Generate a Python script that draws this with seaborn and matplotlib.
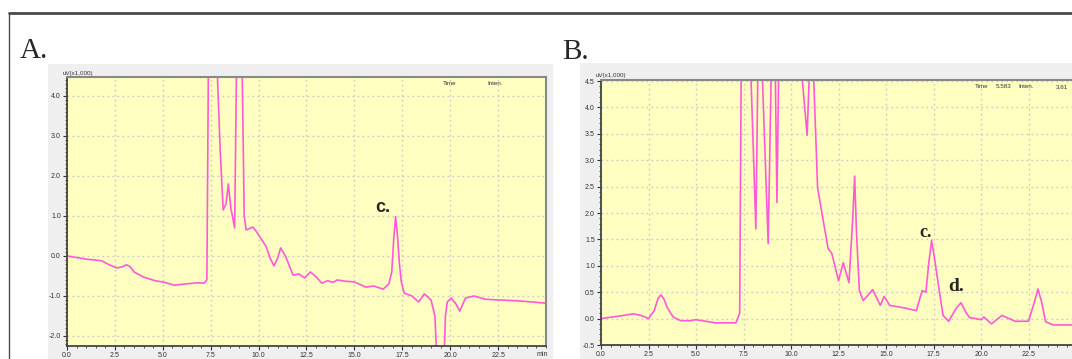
import numpy as np
import matplotlib
matplotlib.use('Agg')
import matplotlib.pyplot as plt
import seaborn as sns
from matplotlib.patches import Rectangle
from matplotlib.lines import Line2D
from matplotlib.ticker import MultipleLocator

# Panneau A (uV x1000 en fonction du temps en min)
temps_a = [0.0, 0.5, 1.0, 1.8, 2.2, 2.6, 2.9, 3.1, 3.3, 3.5, 4.0, 4.6, 5.0, 5.6, 6.2,
           6.8, 7.15, 7.3, 7.4, 7.6, 7.85, 8.0, 8.15, 8.3, 8.42, 8.55, 8.75, 8.88,
           9.1, 9.25, 9.35, 9.7, 9.9, 10.1, 10.4, 10.6, 10.8, 11.0, 11.15, 11.4, 11.8,
           12.1, 12.4, 12.7, 13.0, 13.3, 13.6, 13.9, 14.1, 14.5, 15.0, 15.6, 16.0,
           16.5, 16.8, 16.95, 17.05, 17.15, 17.25, 17.35, 17.45, 17.6, 18.0, 18.35,
           18.65, 19.0, 19.2, 19.35, 19.5, 19.65, 19.75, 19.85, 20.05, 20.3, 20.5,
           20.8, 21.25, 21.8, 22.5, 23.5, 25.0]
signal_a = [0.0, -0.04, -0.08, -0.12, -0.22, -0.3, -0.27, -0.22, -0.27, -0.4, -0.53,
            -0.62, -0.65, -0.73, -0.7, -0.67, -0.68, -0.6, 6.0, 6.0, 4.5, 2.6, 1.15,
            1.3, 1.8, 1.2, 0.7, 6.0, 6.0, 1.0, 0.65, 0.72, 0.6, 0.45, 0.23, -0.05,
            -0.25, -0.05, 0.2, 0.0, -0.48, -0.45, -0.55, -0.4, -0.52, -0.68, -0.62,
            -0.66, -0.6, -0.63, -0.65, -0.78, -0.75, -0.83, -0.7, -0.4, 0.4, 0.98,
            0.5, -0.2, -0.65, -0.93, -1.0, -1.15, -0.95, -1.1, -1.5, -3.0, -3.5, -3.0,
            -1.5, -1.15, -1.05, -1.2, -1.38, -1.05, -1.0, -1.08, -1.1, -1.12, -1.18]

# Panneau B
temps_b = [0.0, 1.0, 1.7, 2.1, 2.5, 2.8, 3.0, 3.15, 3.3, 3.5, 3.8, 4.2, 4.7, 5.0, 5.5,
           6.0, 7.1, 7.3, 7.4, 7.75, 7.9, 8.15, 8.25, 8.35, 8.5, 8.8, 8.95, 9.05,
           9.18, 9.26, 9.35, 9.5, 10.4, 10.6, 10.85, 10.95, 11.05, 11.2, 11.4, 11.7,
           11.95, 12.15, 12.5, 12.75, 13.05, 13.25, 13.35, 13.45, 13.6, 13.8, 14.3,
           14.7, 14.9, 15.2, 16.0, 16.6, 16.9, 17.1, 17.25, 17.4, 17.55, 17.7, 18.0,
           18.3, 18.7, 18.95, 19.2, 19.4, 20.0, 20.15, 20.55, 21.1, 21.8, 22.5, 22.8,
           23.0, 23.2, 23.4, 23.8, 25.0]
signal_b = [0.0, 0.05, 0.09, 0.06, 0.0, 0.15, 0.38, 0.45, 0.38, 0.2, 0.03, -0.04,
            -0.04, -0.02, -0.05, -0.08, -0.08, 0.1, 6.0, 6.0, 4.5, 1.7, 4.5, 6.0, 4.5,
            1.42, 4.5, 6.0, 4.5, 2.2, 4.6, 6.0, 6.0, 4.5, 3.47, 4.5, 6.0, 4.5, 2.48,
            1.85, 1.33, 1.23, 0.72, 1.06, 0.68, 1.9, 2.7, 1.6, 0.53, 0.34, 0.55, 0.25,
            0.42, 0.25, 0.2, 0.15, 0.53, 0.5, 1.05, 1.48, 1.15, 0.78, 0.06, -0.05,
            0.2, 0.3, 0.12, 0.02, -0.02, 0.03, -0.1, 0.06, -0.05, -0.05, 0.3, 0.56,
            0.3, -0.06, -0.12, -0.12]

ticks_x = [0.0, 2.5, 5.0, 7.5, 10.0, 12.5, 15.0, 17.5, 20.0, 22.5]
ticks_y_a = [-2.0, -1.0, 0.0, 1.0, 2.0, 3.0, 4.0]
ticks_y_b = [-0.5, 0.0, 0.5, 1.0, 1.5, 2.0, 2.5, 3.0, 3.5, 4.0, 4.5]

# ----------------------- Figure ------------------------

sns.set_style('white')
plt.rcParams['font.family'] = ['Liberation Sans', 'DejaVu Sans']

W, H = 1072, 359
fig = plt.figure(figsize=(W / 100, H / 100), dpi=100)

def fx(px):
    return px / W

def fy(py):
    return 1 - py / H

# cadre extérieur et fonds gris
fig.add_artist(Line2D([fx(9), 1.0], [fy(13), fy(13)], color='#4a4a4a', lw=2))
fig.add_artist(Line2D([fx(9), fx(9)], [0, fy(13)], color='#4a4a4a', lw=1))
fig.add_artist(Rectangle((fx(48), 0), fx(505), 1 - 64 / H, transform=fig.transFigure,
                         facecolor='#efefef', edgecolor='none', zorder=-5))
fig.add_artist(Rectangle((fx(580), 0), fx(492), 1 - 63 / H, transform=fig.transFigure,
                         facecolor='#efefef', edgecolor='none', zorder=-5))

trace = '#ff5ad6'
jaune = '#ffffc2'


def panneau(ax, t, s, yticks, ylim):
    ax.set_facecolor(jaune)
    sns.lineplot(x=t, y=s, ax=ax, color=trace, linewidth=1.2, sort=False)
    ax.set_xlim(0, 25)
    ax.set_ylim(*ylim)
    ax.set_xticks(ticks_x)
    ax.set_xticklabels([f'{v:.1f}' for v in ticks_x])
    ax.set_yticks(yticks)
    ax.set_yticklabels([f'{v:.1f}' for v in yticks])
    ax.xaxis.set_minor_locator(MultipleLocator(0.5))
    ax.yaxis.set_minor_locator(MultipleLocator(0.1))
    ax.tick_params(axis='both', which='major', labelsize=5, length=3, width=0.8,
                   color='#333333', labelcolor='#333333', pad=1.5, bottom=True, left=True)
    ax.tick_params(axis='both', which='minor', length=1.5, width=0.6, color='#333333',
                   bottom=True, left=True)
    ax.grid(True, which='major', color='#c8c8c8', linestyle=(0, (1.2, 2.4)), linewidth=1)
    ax.set_xlabel('')
    ax.set_ylabel('')
    for side in ['top', 'right']:
        ax.spines[side].set_color('#888888')
        ax.spines[side].set_linewidth(1.5)
    for side in ['left', 'bottom']:
        ax.spines[side].set_color('#444444')
        ax.spines[side].set_linewidth(1.3)


ax_a = fig.add_axes([fx(67), fy(346), fx(546 - 67), (346 - 77) / H])
panneau(ax_a, temps_a, signal_a, ticks_y_a, (-2.25, 4.47))

ax_b = fig.add_axes([fx(601), fy(345), fx(1076 - 601), (345 - 80) / H])
panneau(ax_b, temps_b, signal_b, ticks_y_b, (-0.5, 4.52))

# étiquettes des pics
ax_a.text(16.5, 1.2, 'c.', fontsize=13, fontweight='heavy', ha='center', va='center')
ax_b.text(17.1, 1.63, 'c.', fontsize=13, fontweight='bold', family='Liberation Serif',
          ha='center', va='center')
ax_b.text(18.7, 0.6, 'd.', fontsize=14, fontweight='bold', family='Liberation Serif',
          ha='center', va='center')

# textes de l'écran du logiciel
fig.text(fx(20), fy(58), 'A.', fontsize=21, family='Liberation Serif', va='baseline')
fig.text(fx(562), fy(59), 'B.', fontsize=21, family='Liberation Serif', va='baseline')
fig.text(fx(63), fy(75), 'uV(x1,000)', fontsize=4.5, color='#333333', va='baseline')
fig.text(fx(596), fy(77), 'uV(x1,000)', fontsize=4.5, color='#333333', va='baseline')
fig.text(fx(537), fy(356), 'min', fontsize=5, color='#333333', va='baseline')
fig.text(fx(443), fy(85), 'Time', fontsize=4.5, color='#333333', va='baseline')
fig.text(fx(487), fy(85), 'Inten.', fontsize=4.5, color='#333333', va='baseline')
fig.text(fx(975), fy(88), 'Time', fontsize=4.5, color='#333333', va='baseline')
fig.text(fx(996), fy(88), '5.583', fontsize=4.5, color='#333333', va='baseline')
fig.text(fx(1018), fy(88), 'Inten.', fontsize=4.5, color='#333333', va='baseline')
fig.text(fx(1056), fy(88), '3,61', fontsize=4.5, color='#333333', va='baseline')

fig.savefig('out.png', dpi=100)
